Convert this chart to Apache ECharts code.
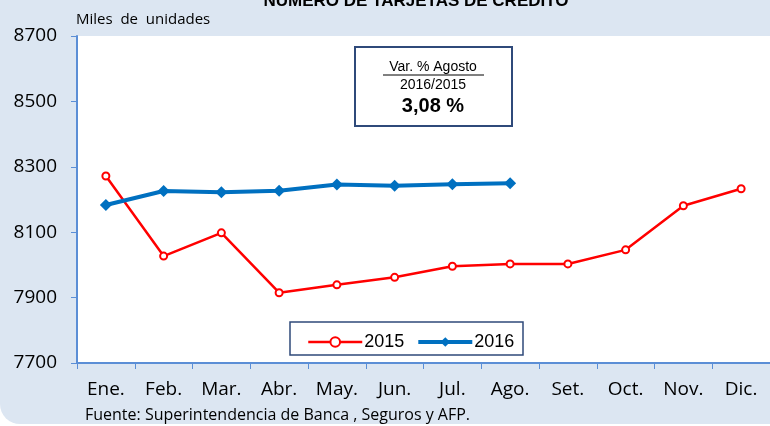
<!DOCTYPE html>
<html>
<head>
<meta charset="utf-8">
<script src="https://cdn.jsdelivr.net/npm/echarts@6/dist/echarts.min.js"></script>
<style>
    html, body { margin: 0; padding: 0; background: #ffffff; }
    #chart { width: 770px; height: 426px; }
</style>
</head>
<body>
<div id="chart"></div>
<script type="text/javascript">
    var meses = ['Ene.', 'Feb.', 'Mar.', 'Abr.', 'May.', 'Jun.', 'Jul.', 'Ago.', 'Set.', 'Oct.', 'Nov.', 'Dic.'];
    var datos2015 = [8272, 8027, 8098, 7915, 7939, 7962, 7996, 8003, 8003, 8046, 8181, 8233];
    var datos2016 = [8183, 8226, 8222, 8227, 8246, 8242, 8247, 8250];
    var yMin = 7700, yMax = 8700, yPaso = 200;

    var azulEje = '#5b8ed6';
    var myChart = echarts.init(document.getElementById('chart'));
    var option = {
        backgroundColor: '#ffffff',
        animation: false,
        title: {
            text: 'NÚMERO DE TARJETAS DE CRÉDITO',
            left: 411, textAlign: 'center', top: -12,
            textStyle: { fontFamily: 'Arial', fontSize: 17, fontWeight: 'bold', color: '#000' }
        },
        graphic: [
            // fondo celeste con esquina redondeada
            { type: 'rect', z: -10, silent: true,
              shape: { x: 0, y: -30, width: 800, height: 454, r: 20 },
              style: { fill: '#dce6f2' } },
            { type: 'text', left: 76, top: 12,
              style: { text: 'Miles  de  unidades', font: '15px "Open Sans"', fill: '#000' } },
            { type: 'text', left: 85, top: 407,
              style: { text: 'Fuente: Superintendencia de Banca , Seguros y AFP.', font: '16px "Open Sans"', fill: '#000' } },
            // recuadro de variación
            { type: 'rect', z: 50,
              shape: { x: 355, y: 47, width: 157, height: 79 },
              style: { fill: '#fff', stroke: '#2f4a7a', lineWidth: 2 } },
            { type: 'text', z: 51, x: 433, y: 67,
              style: { text: 'Var. % Agosto', font: '14px Arial', fill: '#000', align: 'center', verticalAlign: 'middle' } },
            { type: 'line', z: 51,
              shape: { x1: 383, y1: 75, x2: 484, y2: 75 },
              style: { stroke: '#000', lineWidth: 1 } },
            { type: 'text', z: 51, x: 433, y: 85,
              style: { text: '2016/2015', font: '14px Arial', fill: '#000', align: 'center', verticalAlign: 'middle' } },
            { type: 'text', z: 51, x: 433, y: 106,
              style: { text: '3,08 %', font: 'bold 20px Arial', fill: '#000', align: 'center', verticalAlign: 'middle' } },
            // marco de la leyenda
            { type: 'rect', z: 50,
              shape: { x: 290, y: 322, width: 233, height: 33 },
              style: { fill: '#fff', stroke: '#2f4a7a', lineWidth: 1.5 } }
        ],
        legend: {
            left: 302, top: 328, z: 60,
            itemWidth: 54, itemHeight: 12, itemGap: 12,
            textStyle: { fontFamily: 'Arial', fontSize: 18, color: '#000', padding: [0, 0, 0, -3] },
            data: [
                { name: '2015', lineStyle: { width: 2.5 } },
                { name: '2016', lineStyle: { width: 4 } }
            ]
        },
        grid: {
            left: 77, top: 36, width: 704, height: 327,
            show: true, backgroundColor: '#ffffff', borderWidth: 0
        },
        xAxis: {
            type: 'category',
            data: meses,
            boundaryGap: true,
            axisLine: { lineStyle: { color: azulEje, width: 2 } },
            axisTick: { show: true, length: 6, lineStyle: { color: azulEje, width: 1 } },
            axisLabel: { color: '#000', fontFamily: 'Open Sans', fontSize: 19, margin: 17 }
        },
        yAxis: {
            type: 'value',
            min: yMin, max: yMax, interval: yPaso,
            splitLine: { show: false },
            axisLine: { show: true, lineStyle: { color: azulEje, width: 2 } },
            axisTick: { show: true, length: 6, lineStyle: { color: azulEje, width: 1 } },
            axisLabel: { color: '#000', fontFamily: 'Open Sans', fontSize: 19, margin: 20,
                         formatter: function (v) { return String(v); } }
        },
        series: [
            {
                name: '2015', type: 'line', data: datos2015,
                symbol: 'emptyCircle', symbolSize: 7,
                lineStyle: { color: '#ff0000', width: 2.5 },
                itemStyle: { color: '#ff0000', borderColor: '#ff0000', borderWidth: 2 }
            },
            {
                name: '2016', type: 'line', data: datos2016,
                symbol: 'diamond', symbolSize: 12,
                lineStyle: { color: '#0070c0', width: 4 },
                itemStyle: { color: '#0070c0' }
            }
        ]
    };
    myChart.setOption(option);
</script>
</body>
</html>
